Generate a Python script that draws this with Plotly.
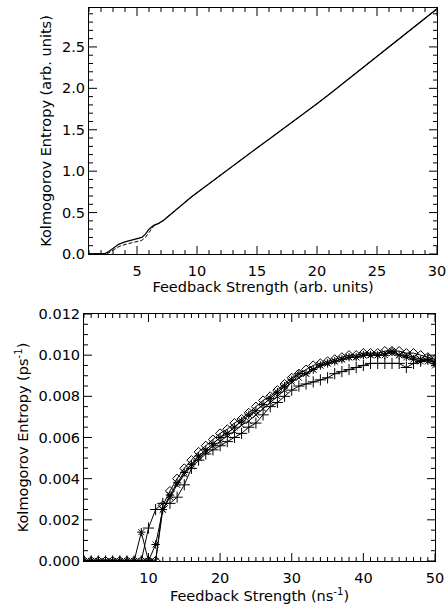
import numpy as np
import plotly.graph_objects as go

# ---- top panel data ----
top_x = [1, 1.5, 2.0, 2.3, 2.6, 2.9, 3.2, 3.5, 4.0, 4.5, 5.0, 5.4, 5.7, 6.0, 6.4, 6.8, 7.2, 7.6,
         8, 8.5, 9, 9.5, 10, 11, 12, 13, 14, 15, 16, 17, 18, 19, 20, 21, 22, 23, 24, 25, 26,
         27, 28, 29, 30]
top_main = [0.0, 0.0, 0.0, 0.003, 0.025, 0.06, 0.095, 0.12, 0.145, 0.165, 0.18, 0.2, 0.24, 0.3,
            0.345, 0.37, 0.405, 0.455, 0.505, 0.565, 0.625, 0.685, 0.74, 0.85, 0.96, 1.065,
            1.17, 1.28, 1.385, 1.49, 1.60, 1.705, 1.815, 1.925, 2.04, 2.155, 2.27, 2.385, 2.5,
            2.615, 2.73, 2.845, 2.96]
top_alt = [0.0, 0.0, 0.0, 0.0, 0.01, 0.035, 0.065, 0.09, 0.115, 0.135, 0.15, 0.165, 0.2, 0.26,
           0.34, 0.37, 0.405, 0.455, 0.505, 0.565, 0.625, 0.685, 0.74, 0.85, 0.96, 1.065,
           1.17, 1.28, 1.385, 1.49, 1.60, 1.705, 1.815, 1.925, 2.04, 2.155, 2.27, 2.385, 2.5,
           2.615, 2.73, 2.845, 2.96]

# ---- bottom panel data ----
bot_x = list(range(1, 51))
zeros8 = [0.0] * 8
s_diamond = zeros8 + [0, 0, 0, 0.0027, 0.0034, 0.0040, 0.0045, 0.0049, 0.0053, 0.0056, 0.0059,
                      0.0062, 0.0064, 0.0067, 0.0069, 0.0072, 0.0075, 0.0078, 0.0080, 0.0083,
                      0.0086, 0.0089, 0.0091, 0.0093, 0.0095, 0.0096, 0.0097, 0.0098, 0.0099,
                      0.0100, 0.0100, 0.0101, 0.0101, 0.0101, 0.0102, 0.0102, 0.0102, 0.0101,
                      0.0101, 0.0100, 0.0099, 0.0098]
s_aster = zeros8 + [0.0014, 0, 0.0008, 0.0025, 0.0032, 0.0038, 0.0043, 0.0047, 0.0051, 0.0054,
                    0.0057, 0.0060, 0.0062, 0.0065, 0.0068, 0.0071, 0.0073, 0.0076, 0.0079,
                    0.0082, 0.0085, 0.0088, 0.0091, 0.0091, 0.0093, 0.0095, 0.0096, 0.0097,
                    0.0098, 0.0099, 0.0099, 0.0100, 0.0100, 0.0100, 0.0100, 0.0102, 0.0100,
                    0.0099, 0.0098, 0.0097, 0.0098, 0.0096]
s_cross = zeros8 + [0, 0, 0, 0.0025, 0.0031, 0.0037, 0.0042, 0.0046, 0.0050, 0.0053, 0.0056,
                    0.0058, 0.0061, 0.0063, 0.0066, 0.0068, 0.0071, 0.0074, 0.0077, 0.0080,
                    0.0083, 0.0087, 0.0089, 0.0091, 0.0093, 0.0095, 0.0096, 0.0097, 0.0098,
                    0.0099, 0.0099, 0.0100, 0.0100, 0.0100, 0.0101, 0.0101, 0.0100, 0.0100,
                    0.0099, 0.0098, 0.0097, 0.0095]
s_plus = zeros8 + [0, 0.0016, 0.0025, 0.0028, 0.0028, 0.0031, 0.0037, 0.0045, 0.0049, 0.0052,
                   0.0054, 0.0056, 0.0058, 0.0060, 0.0062, 0.0065, 0.0067, 0.0071, 0.0075,
                   0.0077, 0.0080, 0.0083, 0.0085, 0.0086, 0.0087, 0.0088, 0.0089, 0.0091,
                   0.0092, 0.0093, 0.0094, 0.0095, 0.0096, 0.0096, 0.0096, 0.0096, 0.0096,
                   0.0094, 0.0096, 0.0097, 0.0098, 0.0097]

# axis ranges
top_xrange = [1, 30]
top_yrange = [-0.0001, 2.97]
bot_xrange = [1, 50]
bot_yrange = [-0.000001, 0.012]

W, H = 446, 606
top_dom_x = [89 / W, 437 / W]
top_dom_y = [1 - 254 / H, 1 - 8 / H]
bot_dom_x = [84 / W, 435 / W]
bot_dom_y = [1 - 561 / H, 1 - 314 / H]

FONT = "DejaVu Sans"
FS = 14.5
fig = go.Figure()

fig.add_trace(go.Scatter(x=top_x, y=top_alt, mode="lines",
                         line=dict(color="black", width=1, dash="4px,2px"),
                         xaxis="x", yaxis="y", showlegend=False))
fig.add_trace(go.Scatter(x=top_x, y=top_main, mode="lines",
                         line=dict(color="black", width=1.3),
                         xaxis="x", yaxis="y", showlegend=False))

series = [(s_plus, "cross-thin-open", 8), (s_cross, "x-thin-open", 6),
          (s_aster, "asterisk-open", 7), (s_diamond, "diamond-open", 7)]
for ys, sym, sz in series:
    fig.add_trace(go.Scatter(x=bot_x, y=ys, mode="lines+markers",
                             line=dict(color="black", width=1),
                             marker=dict(symbol=sym, size=sz, color="black",
                                         line=dict(color="black", width=1)),
                             xaxis="x2", yaxis="y2", showlegend=False))


def tick_trace(xa, ya, xr, yr, domx, domy, xmaj, xmin, ymaj, ymin):
    """IDL-style inward ticks (major 8 px, minor 4 px) on all four sides of a panel."""
    dx = (xr[1] - xr[0]) / ((domx[1] - domx[0]) * W)
    dy = (yr[1] - yr[0]) / ((domy[1] - domy[0]) * H)
    xs, ys = [], []
    for v in np.arange(np.ceil(xr[0] / xmin) * xmin, xr[1] + xmin * 0.01, xmin):
        v = float(v)
        L = 8 if abs(v / xmaj - round(v / xmaj)) < 1e-6 else 4
        xs += [v, v, None, v, v, None]
        ys += [yr[0], yr[0] + L * dy, None, yr[1], yr[1] - L * dy, None]
    for v in np.arange(max(0.0, np.ceil(yr[0] / ymin) * ymin), yr[1] + ymin * 0.01, ymin):
        v = float(v)
        L = 8 if abs(v / ymaj - round(v / ymaj)) < 1e-6 else 4
        xs += [xr[0], xr[0] + L * dx, None, xr[1], xr[1] - L * dx, None]
        ys += [v, v, None, v, v, None]
    return go.Scatter(x=xs, y=ys, mode="lines", line=dict(color="black", width=1),
                      xaxis=xa, yaxis=ya, showlegend=False, hoverinfo="skip")


fig.add_trace(tick_trace("x", "y", top_xrange, top_yrange, top_dom_x, top_dom_y,
                         5, 1, 0.5, 0.1))
fig.add_trace(tick_trace("x2", "y2", bot_xrange, bot_yrange, bot_dom_x, bot_dom_y,
                         10, 1, 0.002, 0.0005))

axis_common = dict(showline=True, linecolor="black", linewidth=1, mirror=True,
                   ticks="", showgrid=False, zeroline=False, automargin=False,
                   ticklabeloverflow="allow",
                   tickfont=dict(family=FONT, size=FS, color="black"))

fig.update_layout(
    template="none",
    width=W, height=H,
    margin=dict(l=0, r=0, t=0, b=0, pad=0),
    paper_bgcolor="white", plot_bgcolor="white",
    font=dict(family=FONT, size=FS, color="black"),
    xaxis=dict(domain=top_dom_x, range=top_xrange, dtick=5, tick0=0,
               ticklabelstandoff=4,
               title=dict(text="Feedback Strength (arb. units)", standoff=2,
                          font=dict(family=FONT, size=FS)),
               anchor="y", **axis_common),
    yaxis=dict(domain=top_dom_y, range=top_yrange, dtick=0.5, tick0=0,
               tickformat=".1f",
               title=dict(text="Kolmogorov Entropy (arb. units)", standoff=6,
                          font=dict(family=FONT, size=FS)),
               anchor="x", **axis_common),
    xaxis2=dict(domain=bot_dom_x, range=bot_xrange, dtick=10, tick0=0,
                ticklabelstandoff=4,
                title=dict(text="Feedback Strength (ns<sup>-1</sup>)", standoff=2,
                           font=dict(family=FONT, size=FS)),
                anchor="y2", **axis_common),
    yaxis2=dict(domain=bot_dom_y, range=bot_yrange, dtick=0.002,
                tick0=0, tickformat=".3f",
                title=dict(text="Kolmogorov Entropy (ps<sup>-1</sup>)", standoff=6,
                           font=dict(family=FONT, size=FS)),
                anchor="x2", **axis_common),
)

fig.write_html("out.html", config={"displayModeBar": False},
               post_script="document.body.style.margin='0px';")
